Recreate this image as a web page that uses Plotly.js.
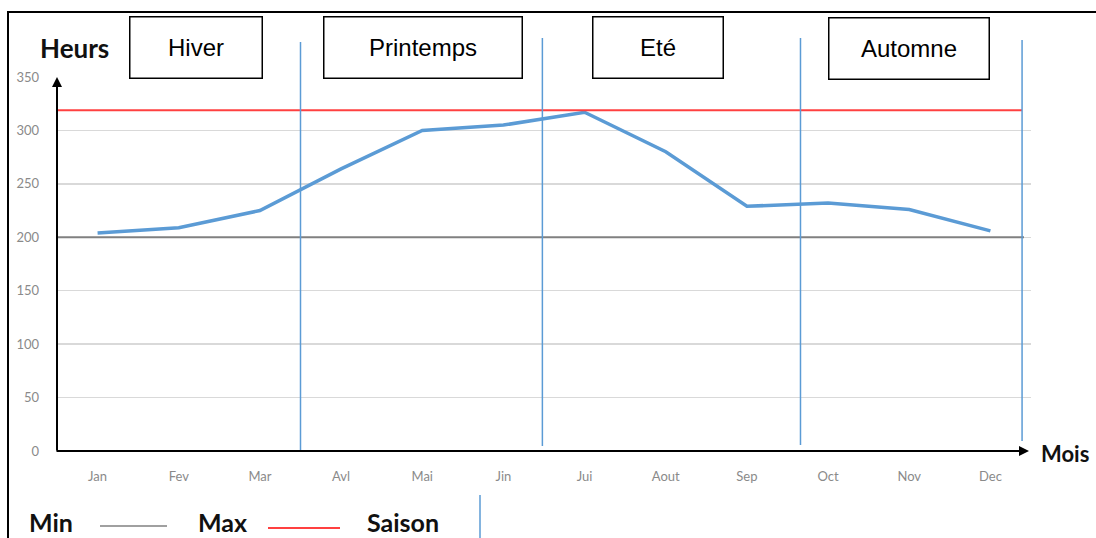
<!DOCTYPE html>
<html>
<head>
<meta charset="utf-8">
<script src="https://cdn.plot.ly/plotly-3.0.1.min.js"></script>
<style>html,body{margin:0;padding:0;background:#fff;}#chart{width:1096px;height:538px;}</style>
</head>
<body>
<div id="chart"></div>
<script>
// ---- Data ----
const months = ["Jan","Fev","Mar","Avl","Mai","Jin","Jui","Aout","Sep","Oct","Nov","Dec"];
const hours = [204, 209, 225, 264, 300, 305, 317, 280, 229, 232, 226, 206];
const minValue = 200;
const maxValue = 319;
const seasonBounds = [2.5, 5.48, 8.66, 11.39];
const seasonNames = ["Hiver", "Printemps", "Eté", "Automne"];
const yTicks = [0, 50, 100, 150, 200, 250, 300, 350];

// ---- Layout helpers (pixel -> paper) ----
const W = 1096, H = 538;
const L = 57, R = 1031, T = 77, B = 451;
const px = x => (x - L) / (R - L);
const py = y => (B - y) / (B - T);

const blue = "#5b9bd5";
const shapes = [];
const annotations = [];

// outer frame
shapes.push({type:"rect", xref:"paper", yref:"paper", x0:px(8), x1:px(1110), y0:py(12), y1:py(560),
  line:{color:"#000", width:2}, layer:"below"});

// min / max lines
shapes.push({type:"line", xref:"paper", yref:"y", x0:0, x1:px(1024), y0:minValue, y1:minValue,
  line:{color:"#808080", width:2}});
shapes.push({type:"line", xref:"paper", yref:"y", x0:0, x1:px(1022), y0:maxValue, y1:maxValue,
  line:{color:"#ff4040", width:2}});

// season boundaries
const tops = [42, 38, 38, 40];
const bots = [451, 446, 445, 441];
seasonBounds.forEach((b, i) => {
  shapes.push({type:"line", xref:"x", yref:"paper", x0:b, x1:b, y0:py(bots[i]), y1:py(tops[i]),
    line:{color:blue, width:1.5}});
});

// season boxes
const boxes = [[129,262,48],[323,522,48],[592,723,47.5],[828,989,48.5]];
seasonNames.forEach((n, i) => {
  const [x0, x1, yc] = boxes[i];
  annotations.push({text:n, xref:"paper", yref:"paper", x:px((x0+x1)/2), y:py(yc),
    xanchor:"center", yanchor:"middle", showarrow:false,
    width:x1-x0-2, height:60, borderpad:0, bordercolor:"#000", borderwidth:1.5, bgcolor:"#fff",
    font:{family:"Liberation Sans, Arial", size:24, color:"#000"}});
});

// axis titles
const boldFont = {family:"Lato, Open Sans", size:26, color:"#111"};
annotations.push({text:"<b>Heurs</b>", xref:"paper", yref:"paper", x:px(74), y:py(48),
  xanchor:"center", yanchor:"middle", showarrow:false, font:boldFont});
annotations.push({text:"<b>Mois</b>", xref:"paper", yref:"paper", x:px(1040), y:py(453),
  xanchor:"left", yanchor:"middle", showarrow:false, borderpad:0,
  font:{family:"Lato, Open Sans", size:22, color:"#111"}});

// axis arrows
annotations.push({text:"", xref:"paper", yref:"paper", x:0, y:py(77), ax:0, ay:375,
  showarrow:true, arrowhead:2, arrowsize:1, arrowwidth:2, arrowcolor:"#000"});
annotations.push({text:"", xref:"paper", yref:"paper", x:px(1029), y:0, ax:-974, ay:0,
  showarrow:true, arrowhead:2, arrowsize:1, arrowwidth:2, arrowcolor:"#000"});

// bottom legend
const legFont = {family:"Lato, Open Sans", size:25, color:"#111"};
annotations.push({text:"<b>Min</b>", xref:"paper", yref:"paper", x:px(51), y:py(522), xanchor:"center", yanchor:"middle", showarrow:false, borderpad:0, font:legFont});
annotations.push({text:"<b>Max</b>", xref:"paper", yref:"paper", x:px(222), y:py(522), xanchor:"center", yanchor:"middle", showarrow:false, borderpad:0, font:legFont});
annotations.push({text:"<b>Saison</b>", xref:"paper", yref:"paper", x:px(403), y:py(522), xanchor:"center", yanchor:"middle", showarrow:false, borderpad:0, font:legFont});
shapes.push({type:"line", xref:"paper", yref:"paper", x0:px(100), x1:px(167), y0:py(526), y1:py(526), line:{color:"#808080", width:1.5}});
shapes.push({type:"line", xref:"paper", yref:"paper", x0:px(268), x1:px(340), y0:py(528), y1:py(528), line:{color:"#ff4040", width:2}});
shapes.push({type:"line", xref:"paper", yref:"paper", x0:px(480), x1:px(480), y0:py(495), y1:py(545), line:{color:blue, width:1.5}});

const trace = {
  x: months, y: hours, type:"scatter", mode:"lines",
  line:{color:blue, width:3.5}, hoverinfo:"skip"
};

const tickFont = {family:"Lato, Open Sans", size:13, color:"#8a8a8a"};
const layout = {
  width:W, height:H,
  margin:{l:L, r:W-R, t:T, b:H-B, pad:0},
  paper_bgcolor:"#fff", plot_bgcolor:"#fff",
  showlegend:false,
  xaxis:{type:"category", range:[-0.5, 11.5], showgrid:false, zeroline:false, showline:false,
    ticks:"", tickfont:tickFont, ticklabelstandoff:16, fixedrange:true},
  yaxis:{range:[0, 350], tickvals:yTicks, showgrid:true, gridcolor:"#d9d9d9", gridwidth:1.5,
    zeroline:false, showline:false, ticks:"", tickfont:tickFont, ticklabelstandoff:17, fixedrange:true},
  shapes: shapes,
  annotations: annotations
};

Plotly.newPlot("chart", [trace], layout, {displayModeBar:false, staticPlot:true});
</script>
</body>
</html>
